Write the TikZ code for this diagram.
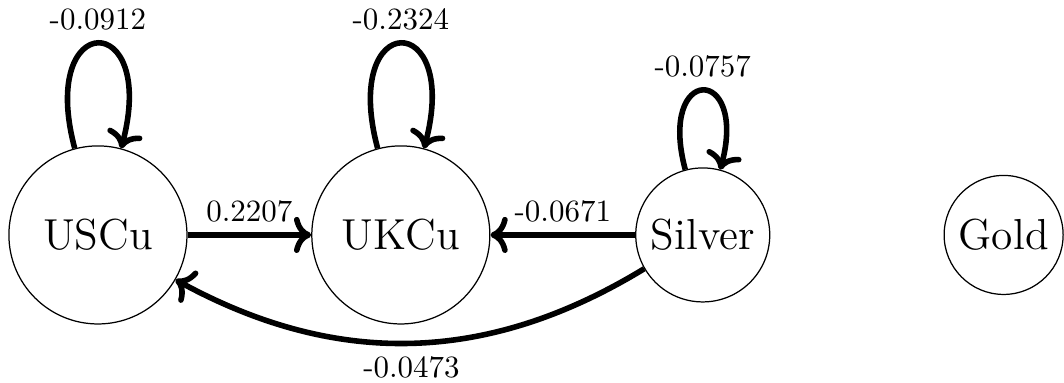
\documentclass[tikz,border=0pt]{standalone}
\usepackage{xcolor}
\usepackage{tikz}
\usetikzlibrary{arrows.meta, positioning}
\tikzset{
  basenode/.style={draw, circle, thin, inner sep=0pt, font=\fontsize{14}{17}\selectfont},
  bignode/.style={basenode, minimum size=2.02cm},
  midnode/.style={basenode, minimum size=1.52cm},
  smallnode/.style={basenode, minimum size=1.35cm},
  arr/.style={-{Computer Modern Rightarrow}, line width=1.8pt, black},
  wlabel/.style={font=\normalsize}
}

\begin{document}
\begin{tikzpicture}

\useasboundingbox (0, 0) rectangle (12.07, -4.343);

% ===== NODES =====
\node[bignode]   (USC) at (1.111, -2.665)  {USCu};
\node[bignode]   (UKC) at (4.547, -2.665)  {UKCu};
\node[midnode]   (SLV) at (7.972, -2.665)  {Silver};
\node[smallnode] (GLD) at (11.385, -2.665) {Gold};

% ===== SELF LOOPS =====
\draw[arr] (USC) to[loop above] node[above,wlabel] {-0.0912} (USC);
\draw[arr] (UKC) to[loop above] node[above,wlabel] {-0.2324} (UKC);
\draw[arr] (SLV) to[loop above] node[above,wlabel] {-0.0757} (SLV);

% ===== CROSS EDGES =====
\draw[arr] (USC) -- node[above,wlabel] {0.2207} (UKC);
\draw[arr] (SLV) -- node[above,wlabel] {-0.0671} (UKC);
\draw[arr] (SLV) to[bend left] node[below,wlabel] {-0.0473} (USC);

\end{tikzpicture}
\end{document}
